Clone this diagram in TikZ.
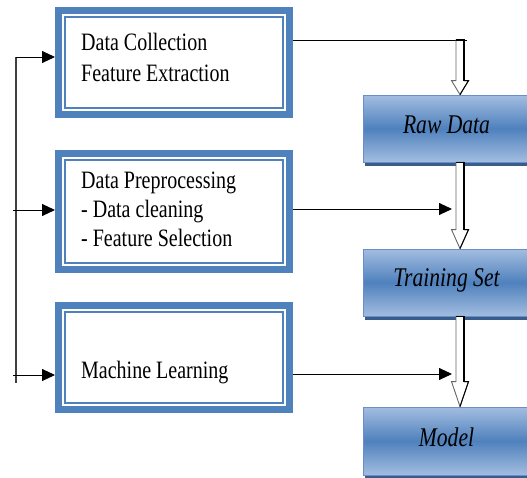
\documentclass[tikz,border=0pt]{standalone}
\usepackage{fontspec}
\setmainfont{Liberation Serif}
\usetikzlibrary{arrows.meta,calc,backgrounds}
\definecolor{frameblue}{HTML}{4F81BD}
\definecolor{lightblue}{HTML}{A3BDE0}
\definecolor{midblue}{HTML}{4F81BD}
\definecolor{shadowblue}{HTML}{385D8A}
\definecolor{edgeblue}{HTML}{6A8FC8}
\newcommand{\narrowtext}[1]{\scalebox{0.8}[1]{\begin{tabular}{@{}l@{}}#1\end{tabular}}}
\newcommand{\hollowarrow}[3]{%
  \draw[fill=white, draw=black!60, line width=0.9pt, line join=miter]
    ($(#1)+(-4,0)$) -- ($(#2)+(-4,-#3)$) -- ($(#2)+(-8.5,-#3)$) -- (#2)
    -- ($(#2)+(8.5,-#3)$) -- ($(#2)+(4,-#3)$) -- ($(#1)+(4,0)$) -- cycle;
  \draw[black, line width=1.8pt] ($(#1)+(4,0)$) -- ($(#2)+(4,-#3)$);
  \draw[black, line width=1.2pt] ($(#1)+(-4.5,0)$) -- ($(#1)+(4.5,0)$);
  \draw[black, line width=1pt] ($(#2)+(4,-#3)$) -- ($(#2)+(8.5,-#3)$) -- (#2);}
\begin{document}
\begin{tikzpicture}[x=1pt,y=-1pt,
  framebox/.style={draw=frameblue, line width=7pt, fill=white, minimum width=231pt,
    inner sep=0pt, outer sep=3.5pt,
    path picture={\draw[frameblue,line width=1.8pt]
      ([shift={(6.5,6.5)}]path picture bounding box.north west) rectangle
      ([shift={(-6.5,-6.5)}]path picture bounding box.south east);}},
  boxtext/.style={anchor=west, inner sep=0pt, font=\fontsize{25}{31}\selectfont},
  stagebox/.style={draw=edgeblue, line width=0.8pt, top color=lightblue, bottom color=lightblue,
    middle color=midblue, minimum width=167pt, minimum height=67pt, inner sep=0pt,
    font=\itshape\fontsize{27}{30}\selectfont},
  arr/.style={black, line width=0.9pt, -{Triangle[length=13pt,width=12pt]}},
  plain/.style={black, line width=0.9pt},
  bus/.style={black!75, line width=1.2pt}]
\useasboundingbox (0,0) rectangle (527,477);
\clip (0,0) rectangle (527,477);

% left boxes
\node[framebox, minimum height=104pt] (b1) at (174,62.5) {};
\node[framebox, minimum height=116pt] (b2) at (174,211.5) {};
\node[framebox, minimum height=104pt] (b3) at (174,357.5) {};

\node[boxtext] (t1) at (81,59.5) {\narrowtext{Data Collection\\Feature Extraction}};
\node[boxtext, font=\fontsize{25}{29}\selectfont] (t2) at (81,212)
  {\narrowtext{Data Preprocessing\\- Data cleaning\\- Feature Selection}};
\node[boxtext] (t3) at (81,372) {\narrowtext{Machine Learning}};

% right boxes
\node[stagebox] (raw) at (446.5,128.5) {\raisebox{8pt}{\scalebox{0.8}[1]{Raw Data}}};
\node[stagebox] (train) at (446.5,282.5) {\raisebox{9pt}{\scalebox{0.8}[1]{Training Set}}};
\node[stagebox, minimum height=68pt] (model) at (446.5,441) {\raisebox{8pt}{\scalebox{0.8}[1]{Model}}};

\begin{scope}[on background layer]
  \fill[shadowblue] ($(raw.south west)+(2,4)$) rectangle ($(raw.north east)+(2,4)$);
  \fill[shadowblue] ($(train.south west)+(2,4)$) rectangle ($(train.north east)+(2,4)$);
  \fill[shadowblue] ($(model.south west)+(2,4)$) rectangle ($(model.north east)+(2,4)$);
\end{scope}

% left bus
\coordinate (bt) at (16,57);
\coordinate (bb) at (16,383);
\coordinate (k2) at (13,210);
\coordinate (k3) at (13,375);
\draw[bus] (bt) -- (bb);
\draw[arr] (bt) -- (bt -| b1.west);
\draw[arr] (k2) -- (k2 -| b2.west);
\draw[arr] (k3) -- (k3 -| b3.west);

% right connectors
\coordinate (j1) at (467,40);
\coordinate (h1) at (460,40);
\coordinate (j2) at (452,209);
\coordinate (j3) at (452,374);
\draw[plain] (b1.east |- j1) -- (j1);
\draw[arr] (b2.east |- j2) -- (j2);
\draw[arr] (b3.east |- j3) -- (j3);

\hollowarrow{h1}{h1 |- raw.north}{14}
\hollowarrow{h1 |- raw.south}{h1 |- train.north}{19}
\hollowarrow{h1 |- train.south}{h1 |- model.north}{25}
\end{tikzpicture}
\end{document}
